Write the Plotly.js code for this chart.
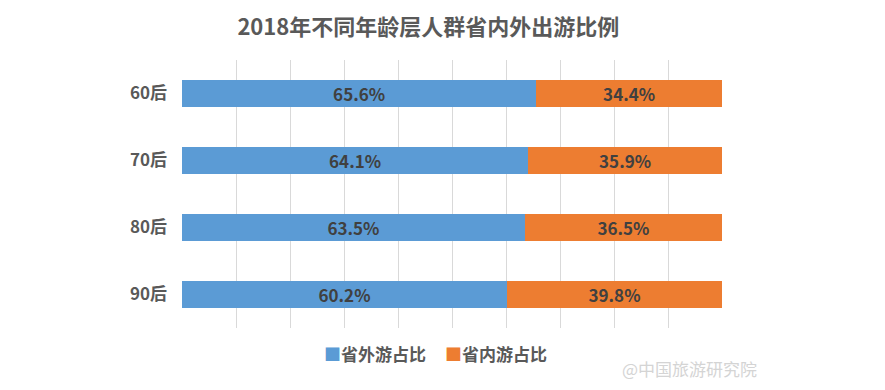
<!DOCTYPE html>
<html><head><meta charset="utf-8">
<script src="https://cdn.plot.ly/plotly-3.0.1.min.js"></script>
<style>body{margin:0;background:#fff}#c{width:885px;height:390px}</style>
</head><body><div id="c"></div>
<script>
const categories = ['60后','70后','80后','90后'];
const outProvince = [65.6, 64.1, 63.5, 60.2];
const inProvince = [34.4, 35.9, 36.5, 39.8];
const seriesNames = ['省外游占比','省内游占比'];
const seriesColors = ['#5b9bd5','#ed7d31'];
const titleText = '2018年不同年龄层人群省内外出游比例';
const watermark = '@中国旅游研究院';

const F = '"Noto Sans CJK SC", "Noto Sans", sans-serif';
const fmt = v => v.toFixed(1) + '%';
const mk = (name, vals, color) => ({type:'bar', orientation:'h', name:name, y:categories, x:vals,
   marker:{color:color}, text:vals.map(fmt), texttemplate:'<b>%{text}</b>', textposition:'inside', insidetextanchor:'middle',
   constraintext:'none', showlegend:false,
   textfont:{family:F, size:17, color:'#404040'}, hoverinfo:'none'});
const traces = [mk(seriesNames[0], outProvince, seriesColors[0]), mk(seriesNames[1], inProvince, seriesColors[1])];
const legendAnn = [0,1].map(i => ({
  text:'<span style="color:'+seriesColors[i]+'">■</span><b>'+seriesNames[i]+'</b>',
  xref:'paper', yref:'paper', x:[0.26,0.483][i], y:-0.095, xanchor:'left', yanchor:'middle', showarrow:false,
  font:{family:F, size:17, color:'#595959'}
}));
const layout = {
  width:885, height:390, barmode:'stack', bargap:0.61,
  margin:{l:182, r:163, t:60, b:62},
  paper_bgcolor:'#fff', plot_bgcolor:'#fff',
  font:{family:F, color:'#595959'},
  title:{text:'<b>'+titleText+'</b>', font:{family:F, size:22, color:'#595959'}, x:0.484, xanchor:'center', y:0.93, yanchor:'middle'},
  xaxis:{range:[0,100], dtick:10, showticklabels:false, showgrid:true, gridcolor:'#d9d9d9', gridwidth:1, zeroline:false, showline:false, fixedrange:true},
  yaxis:{autorange:'reversed', tickfont:{family:F, size:17, color:'#595959', weight:700}, ticks:'', ticklabelstandoff:14, showgrid:false, showline:false, zeroline:false},
  showlegend:false,
  annotations:legendAnn.concat([{text:watermark, xref:'paper', yref:'paper', x:0.94, y:-0.15, xanchor:'center', yanchor:'middle', showarrow:false, font:{family:F, size:17, color:'#d4d4d4'}}])
};
Plotly.newPlot('c', traces, layout, {displayModeBar:false, staticPlot:true});
</script></body></html>
